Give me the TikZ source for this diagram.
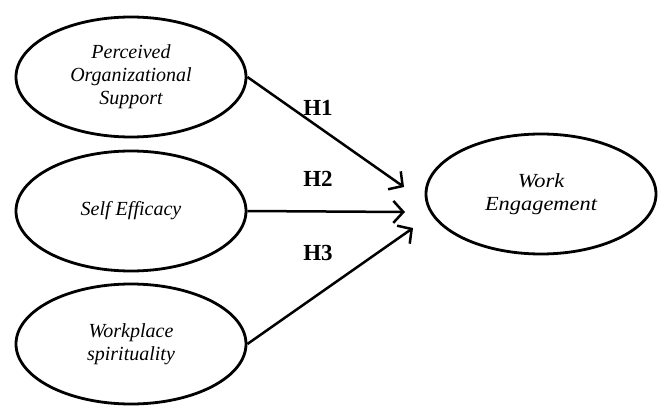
\documentclass[tikz,border=0pt]{standalone}
\usepackage{fontspec}
\setmainfont{Liberation Serif}
\newfontfamily\wideit[FakeStretch=1.12]{Liberation Serif}
\usetikzlibrary{shapes.geometric,arrows.meta}
\tikzset{
  construct/.style={draw, line width=2.8pt, ellipse, minimum width=230pt, minimum height=120pt,
    inner sep=0pt, align=center, font=\fontsize{20}{23}\selectfont\itshape},
  arr/.style={line width=2.5pt, -{Straight Barb[length=10pt,width=22pt,line width=2.5pt]}},
  hyp/.style={font=\fontsize{23}{25}\selectfont\bfseries}
}
\begin{document}
\begin{tikzpicture}[x=1pt,y=-1pt]
\useasboundingbox (0,0) rectangle (664,409);
\node[construct] (pos) at (131,77) {Perceived\\Organizational\\Support};
\node[construct] (se) at (131,211) {Self Efficacy};
\node[construct] (ws) at (131,344) {Workplace\\spirituality};
\node[construct, font=\fontsize{20}{23}\wideit\itshape] (we) at (541,194) {Work\\Engagement};
\coordinate (t1) at (404,187);
\coordinate (t2) at (405,212);
\coordinate (t3) at (413,228);
\draw[arr] (pos.east) -- (t1);
\draw[arr] (se.east) -- (t2);
\draw[arr] (ws.east) -- (t3);
\node[hyp] (h1) at (318,108) {H1};
\node[hyp] (h2) at (318,179) {H2};
\node[hyp] (h3) at (318,253) {H3};
\end{tikzpicture}
\end{document}
